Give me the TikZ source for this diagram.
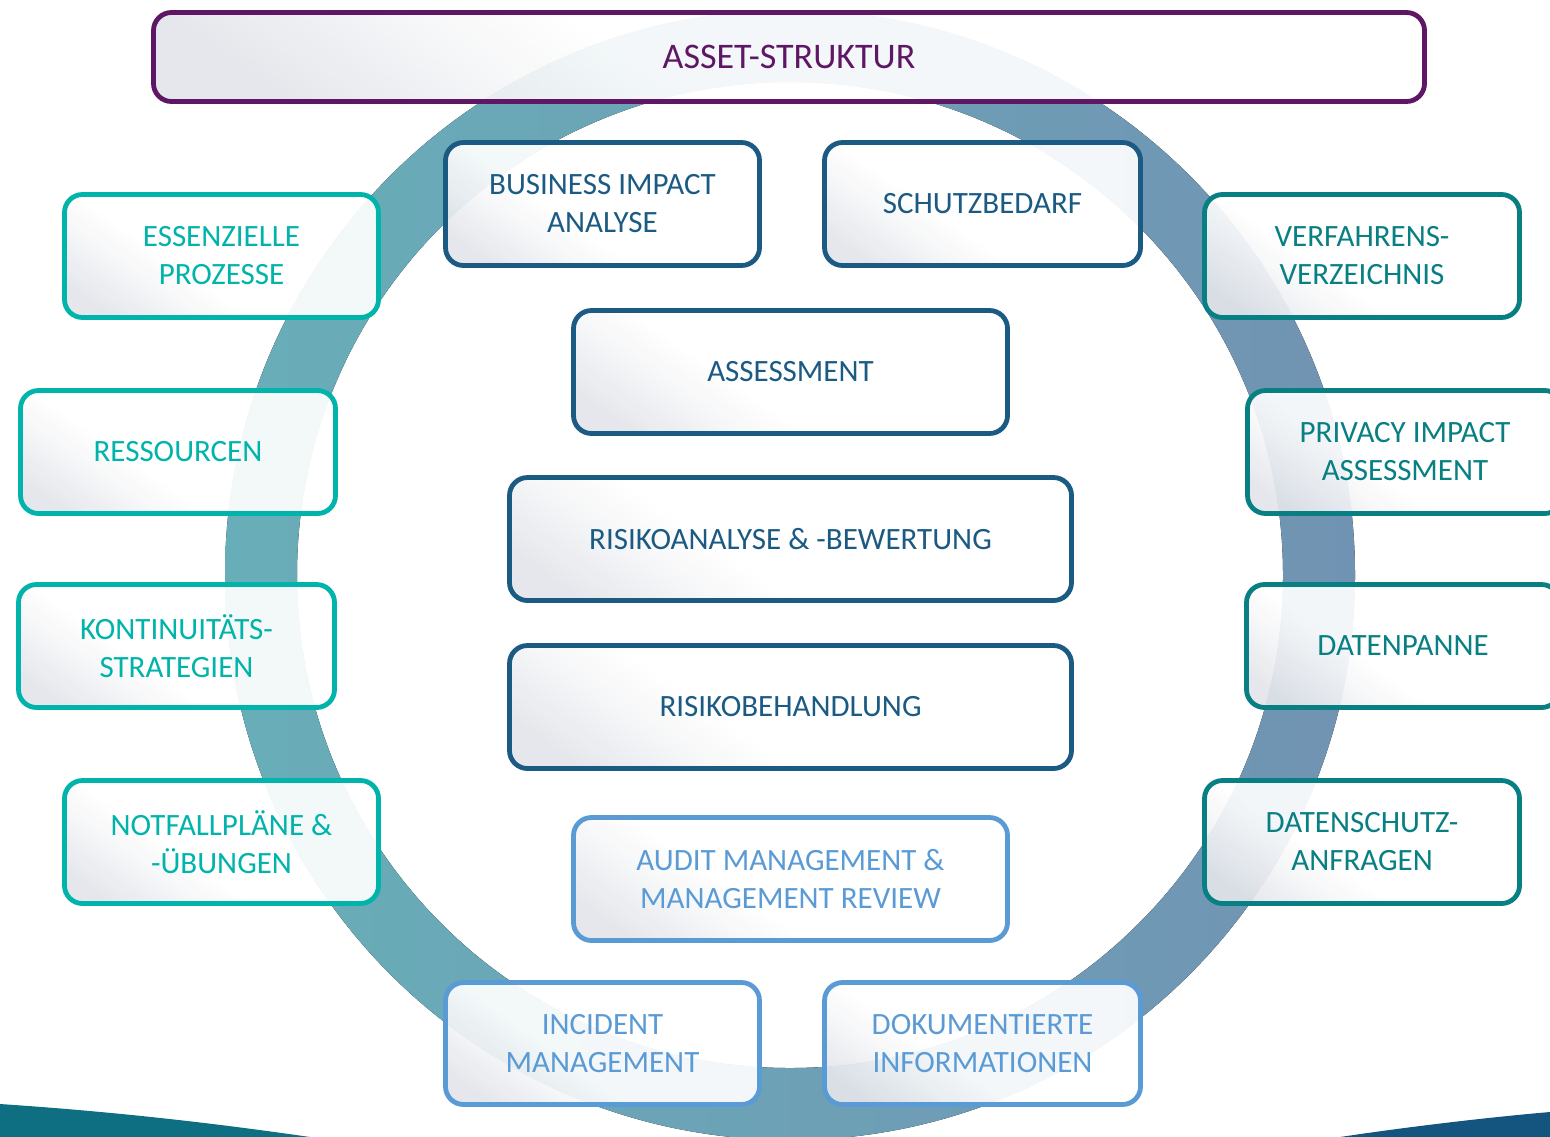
\documentclass[tikz,border=0pt]{standalone}
\usepackage{fontspec}
\setmainfont{Carlito}
\definecolor{ringL}{HTML}{68AEB8}
\definecolor{ringR}{HTML}{7193B3}
\definecolor{cpurple}{HTML}{5F1765}
\definecolor{cdark}{HTML}{1B5A83}
\definecolor{clight}{HTML}{5B9BD5}
\definecolor{cturq}{HTML}{00B3AB}
\definecolor{cteal}{HTML}{087F82}
\definecolor{boxgray}{HTML}{E3E5EA}
\definecolor{wedgeL}{HTML}{0E6E82}
\definecolor{wedgeR}{HTML}{13557F}
\pgfdeclareverticalshading{boxsh}{100bp}{color(0bp)=(boxgray); color(22bp)=(boxgray); color(33bp)=(boxgray!40!white); color(42bp)=(white); color(100bp)=(white)}
\tikzset{
  bx/.style={draw=#1, text=#1, rounded corners=9pt, line width=2.4pt, align=center,
    inner sep=0pt, font=\fontsize{15.5}{19}\selectfont,
    shade, shading=boxsh, shading angle=-35,
    fill opacity=0.92, text opacity=1, draw opacity=1},
  sz/.style 2 args={minimum width=#1, minimum height=#2},
}
\begin{document}
\begin{tikzpicture}[x=0.5pt,y=-0.5pt]
\useasboundingbox (0,0) rectangle (1550,1136);
% ring
\fill[left color=ringL, right color=ringR, even odd rule]
  (790,575) circle[radius=282.5pt] (790,575) circle[radius=246.5pt];
% bottom wedges
\fill[wedgeL] (0,1104) .. controls (120,1112) and (220,1124) .. (310,1137) -- (0,1137) -- cycle;
\fill[wedgeR] (1550,1112) .. controls (1480,1118) and (1400,1128) .. (1340,1137) -- (1550,1137) -- cycle;
% top box
\node[bx=cpurple, sz={635.5pt}{44.5pt}, font=\fontsize{18}{22}\selectfont] (asset) at (789,57) {ASSET-STRUKTUR};
% central column
\node[bx=cdark, sz={157pt}{61.5pt}] (bia) at (602.5,204) {BUSINESS IMPACT\\ANALYSE};
\node[bx=cdark, sz={158pt}{61.5pt}] (schutz) at (982.5,204) {SCHUTZBEDARF};
\node[bx=cdark, sz={217pt}{61.5pt}] (assess) at (790.5,372) {ASSESSMENT};
\node[bx=cdark, sz={281pt}{61.5pt}] (risa) at (790.5,539) {RISIKOANALYSE \& -BEWERTUNG};
\node[bx=cdark, sz={281pt}{61.5pt}] (risb) at (790.5,707) {RISIKOBEHANDLUNG};
\node[bx=clight, sz={217pt}{61.5pt}] (audit) at (790.5,879) {AUDIT MANAGEMENT \&\\MANAGEMENT REVIEW};
\node[bx=clight, sz={157pt}{61pt}] (incident) at (602.5,1043.5) {INCIDENT\\MANAGEMENT};
\node[bx=clight, sz={158pt}{61pt}] (doku) at (982.5,1043.5) {DOKUMENTIERTE\\INFORMATIONEN};
% left column
\node[bx=cturq, sz={157pt}{61.5pt}] (ess) at (221.5,256) {ESSENZIELLE\\PROZESSE};
\node[bx=cturq, sz={157.5pt}{61.5pt}] (ress) at (178,452) {RESSOURCEN};
\node[bx=cturq, sz={158pt}{61.5pt}] (kont) at (176.5,646) {KONTINUITÄTS-\\STRATEGIEN};
\node[bx=cturq, sz={157pt}{61.5pt}] (notf) at (221.5,842) {NOTFALLPLÄNE \&\\-ÜBUNGEN};
% right column
\node[bx=cteal, sz={157.5pt}{61.5pt}] (verf) at (1362,256) {VERFAHRENS-\\VERZEICHNIS};
\node[bx=cteal, sz={157.5pt}{61.5pt}] (priv) at (1405,452) {PRIVACY IMPACT\\ASSESSMENT};
\node[bx=cteal, sz={156.5pt}{61.5pt}] (daten) at (1403,646) {DATENPANNE};
\node[bx=cteal, sz={157.5pt}{61.5pt}] (dsanf) at (1362,842) {DATENSCHUTZ-\\ANFRAGEN};
\end{tikzpicture}
\end{document}
